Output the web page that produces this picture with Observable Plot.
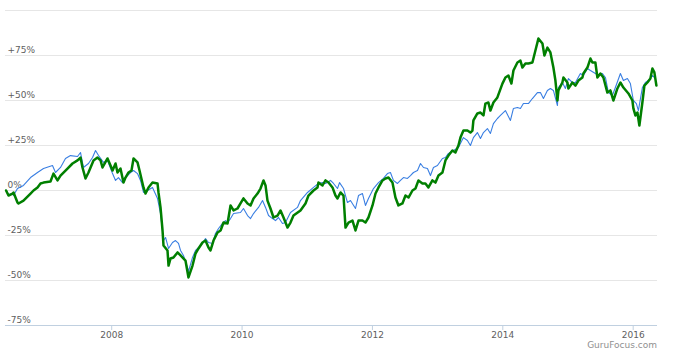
<!DOCTYPE html>
<html>
<head>
<meta charset="utf-8">
<script src="https://cdn.jsdelivr.net/npm/d3@7"></script>
<script src="https://cdn.jsdelivr.net/npm/@observablehq/plot@0.6"></script>
<style>
  html, body { margin: 0; padding: 0; background: #fff; }
  #chart { position: relative; width: 676px; height: 354px; font-family: "DejaVu Sans", Verdana, sans-serif; }
  #credit { position: absolute; right: 19px; top: 341px; font-size: 9px; line-height: 9px; color: #909090; font-family: "DejaVu Sans", Verdana, sans-serif; }
</style>
</head>
<body>
<div id="chart"><div id="credit">GuruFocus.com</div></div>
<script>
// Relative performance (%), time in decimal years
const greenT = [2006.38,2006.417,2006.479,2006.494,2006.555,2006.571,2006.647,2006.755,2006.801,2006.862,2006.908,2006.954,2007.061,2007.107,2007.169,2007.215,2007.322,2007.399,2007.476,2007.522,2007.552,2007.598,2007.644,2007.721,2007.782,2007.829,2007.859,2007.936,2007.982,2008.013,2008.059,2008.089,2008.135,2008.181,2008.212,2008.258,2008.304,2008.335,2008.396,2008.427,2008.488,2008.519,2008.565,2008.626,2008.703,2008.718,2008.749,2008.78,2008.795,2008.856,2008.872,2008.902,2008.948,2009.01,2009.056,2009.132,2009.178,2009.24,2009.286,2009.332,2009.393,2009.439,2009.485,2009.516,2009.562,2009.624,2009.67,2009.716,2009.777,2009.823,2009.869,2009.93,2009.976,2010.022,2010.084,2010.13,2010.176,2010.237,2010.283,2010.329,2010.36,2010.39,2010.436,2010.482,2010.544,2010.59,2010.636,2010.697,2010.743,2010.789,2010.896,2010.973,2011.019,2011.096,2011.157,2011.172,2011.234,2011.28,2011.326,2011.387,2011.433,2011.464,2011.51,2011.556,2011.587,2011.633,2011.694,2011.74,2011.786,2011.847,2011.893,2011.939,2012.001,2012.047,2012.093,2012.154,2012.2,2012.246,2012.307,2012.353,2012.399,2012.46,2012.507,2012.553,2012.614,2012.66,2012.706,2012.767,2012.813,2012.859,2012.92,2012.967,2013.013,2013.074,2013.12,2013.166,2013.227,2013.273,2013.319,2013.35,2013.396,2013.457,2013.503,2013.534,2013.549,2013.61,2013.657,2013.703,2013.733,2013.779,2013.81,2013.856,2013.917,2013.994,2014.04,2014.086,2014.132,2014.163,2014.224,2014.27,2014.301,2014.347,2014.393,2014.454,2014.5,2014.546,2014.608,2014.638,2014.684,2014.73,2014.776,2014.807,2014.838,2014.853,2014.914,2014.93,2014.991,2015.006,2015.068,2015.114,2015.16,2015.221,2015.236,2015.298,2015.344,2015.374,2015.42,2015.451,2015.497,2015.543,2015.604,2015.65,2015.696,2015.758,2015.804,2015.85,2015.927,2015.988,2016.003,2016.034,2016.065,2016.095,2016.141,2016.172,2016.218,2016.264,2016.295,2016.325,2016.356];
const greenV = [0,-2.8,-1.7,-1.1,-6.7,-7.2,-5.6,-1.7,0,1.7,3.9,4.4,5,9.4,5.6,8.3,12.2,15,16.7,18.3,12.8,6.7,10,16.7,18.3,16.7,12.8,17.8,13.9,11.1,15,10,12.2,4.4,7.2,10,11.1,17.8,15.6,11.1,1.7,-1.7,1.7,4.4,3.9,-1.1,-9.4,-22.2,-30.6,-33.3,-41.7,-37.8,-37.2,-34.4,-36.1,-38.9,-48.3,-41.7,-35,-32.2,-28.9,-27.8,-31.7,-33.3,-27.8,-23.3,-22.2,-17.8,-18.3,-8.3,-11.1,-10,-7.2,-4.4,-7.2,-8.3,-4.4,-1.7,1.1,5.6,2.8,-5.6,-10,-15,-13.9,-11.1,-15,-20.6,-17.8,-13.9,-11.1,-7.2,-2.8,0,1.7,4.4,2.8,5.6,4.4,1.7,-2.8,-4.4,-1.1,-2.8,-20.6,-17.8,-16.7,-22.2,-16.7,-16.7,-17.8,-15,-8.3,-1.7,1.7,5.6,6.7,7.2,4.4,-3.9,-8.3,-7.2,-2.8,-3.9,0,1.1,5.6,3.9,3.9,1.7,5.6,4.4,8.3,10,16.7,19.4,22.2,21.1,25,29.4,33.3,33.3,32.2,33.3,38.9,42.8,43.3,41.7,48.3,48.9,44.4,48.9,51.7,59.4,62.8,63.9,59.4,66.7,71.1,72.2,68.3,70.6,70.6,71.1,77.8,84.4,81.7,75,79.4,76.7,68.3,61.1,50,55.6,60,62.8,60,56.7,60,58.3,61.1,62.8,65,68.3,73.3,71.1,71.1,62.8,65,62.8,54.4,55.6,50,56.7,60,57.2,53.9,50,45.6,41.7,43.3,36.1,48.9,58.3,60,62.2,67.8,65.6,58.3];

const blueT = [2006.38,2006.417,2006.479,2006.494,2006.555,2006.647,2006.755,2006.862,2006.954,2007.092,2007.138,2007.215,2007.291,2007.368,2007.476,2007.522,2007.567,2007.644,2007.706,2007.752,2007.798,2007.874,2007.936,2008.013,2008.059,2008.104,2008.166,2008.212,2008.289,2008.335,2008.396,2008.442,2008.488,2008.549,2008.626,2008.703,2008.749,2008.795,2008.826,2008.872,2008.933,2008.979,2009.025,2009.056,2009.101,2009.163,2009.178,2009.24,2009.286,2009.332,2009.393,2009.439,2009.485,2009.547,2009.592,2009.639,2009.7,2009.746,2009.777,2009.823,2009.869,2009.976,2010.022,2010.084,2010.13,2010.176,2010.252,2010.314,2010.36,2010.406,2010.467,2010.513,2010.559,2010.62,2010.666,2010.743,2010.85,2010.896,2011.004,2011.096,2011.172,2011.234,2011.28,2011.357,2011.403,2011.464,2011.495,2011.556,2011.617,2011.663,2011.74,2011.786,2011.847,2011.893,2011.939,2012.016,2012.093,2012.169,2012.23,2012.276,2012.322,2012.384,2012.43,2012.476,2012.537,2012.583,2012.629,2012.691,2012.737,2012.783,2012.844,2012.89,2012.936,2012.997,2013.074,2013.12,2013.166,2013.243,2013.319,2013.396,2013.457,2013.503,2013.549,2013.61,2013.657,2013.703,2013.764,2013.81,2013.856,2013.917,2013.964,2014.04,2014.117,2014.163,2014.224,2014.27,2014.316,2014.393,2014.454,2014.531,2014.577,2014.623,2014.684,2014.73,2014.776,2014.838,2014.853,2014.914,2014.96,2015.006,2015.068,2015.114,2015.19,2015.236,2015.298,2015.344,2015.42,2015.466,2015.528,2015.574,2015.62,2015.681,2015.727,2015.804,2015.85,2015.911,2015.957,2016.003,2016.049,2016.08,2016.141,2016.187,2016.233,2016.295,2016.341];
const blueV = [0,-2.2,-1.7,-2.8,1.1,2.8,7.2,10,12.2,13.9,10,12.8,17.8,19.4,18.9,21.1,12.8,15,18.3,22.2,19.4,15.6,16.7,9.4,5.6,7.2,4.4,7.2,10,11.1,9.4,5.6,-1.1,0,1.7,-4.4,-12.8,-27.8,-26.1,-32.2,-28.9,-27.8,-29.4,-33.3,-36.1,-42.8,-45,-37.2,-33.3,-31.7,-29.4,-26.7,-28.9,-29.4,-23.9,-21.1,-18.3,-16.7,-17.8,-15.6,-12.8,-12.2,-10,-13.9,-15.6,-12.8,-9.4,-5.6,-9.4,-13.9,-15.6,-16.7,-15,-18.3,-17.8,-12.2,-9.4,-5.6,-1.1,1.7,3.9,4.4,3.9,5.6,3.9,1.1,4.4,1.1,-6.7,-5.6,-10,-2.8,-1.7,-8.3,-4.4,1.1,4.4,6.7,9.4,10,5.6,3.9,5.6,7.2,6.7,8.3,10,11.1,15,12.8,12.2,8.3,12.8,13.9,17.8,18.3,20.6,22.2,23.9,29.4,27.8,25,29.4,32.2,28.9,32.2,34.4,31.7,37.2,40,41.7,44.4,38.9,45.6,46.1,45.6,48.3,48.3,51.1,54.4,54.4,51.1,55.6,56.7,55.6,47.2,57.2,60,56.7,62.2,60,60,65,63.9,67.8,66.7,65,63.9,65,62.8,54.4,52.8,57.2,65,61.1,62.2,59.4,50,48.3,44.4,57.2,60,61.1,63.9,62.2];

const yTicks = [75, 50, 25, 0, -25, -50, -75];
const yLabels = ["+75%", "+50%", "+25%", "0%", "-25%", "-50%", "-75%"];
const gridValues = [100, 75, 50, 25, 0, -25, -50];
const xTicks = [2008, 2010, 2012, 2014, 2016];
const xLabels = ["2008", "2010", "2012", "2014", "2016"];

const green = greenT.map((t, i) => ({t, v: greenV[i]}));
const blue = blueT.map((t, i) => ({t, v: blueV[i]}));
const yLab = yTicks.map((v, i) => ({v, label: yLabels[i]}));

const chart = Plot.plot({
  width: 676,
  height: 354,
  marginLeft: 5,
  marginRight: 19,
  marginTop: 10,
  marginBottom: 29,
  style: {background: "#fff", fontFamily: "DejaVu Sans, Verdana, sans-serif", fontSize: "9px", overflow: "visible"},
  x: {type: "linear", domain: [2006.371, 2016.373], label: null},
  y: {domain: [-75, 100], axis: null, label: null},
  marks: [
    Plot.ruleY(gridValues, {stroke: "#e6e6e6", strokeWidth: 1}),
    Plot.ruleY([-75], {stroke: "#c0d0e0", strokeWidth: 1}),
    Plot.axisX({ticks: xTicks, tickFormat: (d) => xLabels[xTicks.indexOf(d)], tickSize: 5, tickPadding: 1, stroke: "#c0d0e0", fill: "#606060", fontSize: 9, label: null}),
    Plot.text(yLab, {y: "v", text: "label", frameAnchor: "left", textAnchor: "start", dx: 2, dy: -5, fill: "#606060", fontSize: 9}),
    Plot.line(blue, {x: "t", y: "v", stroke: "#3a7fe2", strokeWidth: 1.1, strokeLinejoin: "round"}),
    Plot.line(green, {x: "t", y: "v", stroke: "#007f00", strokeWidth: 2.5, strokeLinejoin: "round"})
  ]
});
document.getElementById("chart").prepend(chart);
</script>
</body>
</html>
